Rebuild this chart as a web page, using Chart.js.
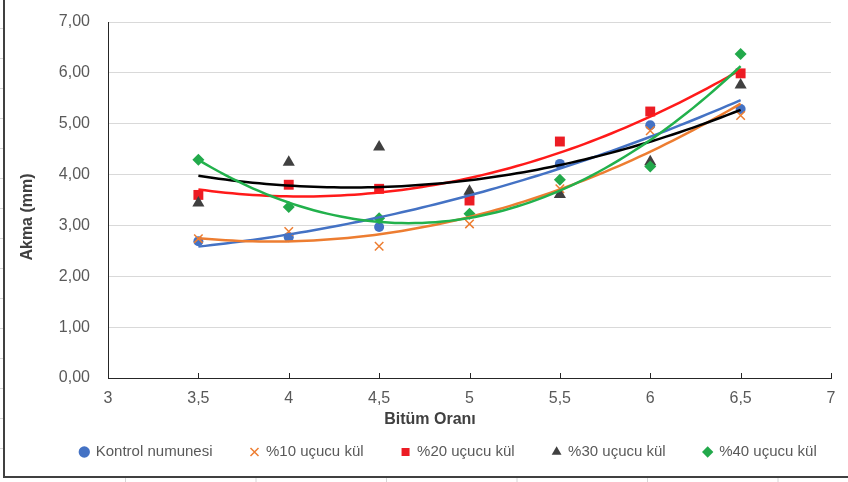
<!DOCTYPE html>
<html lang="tr">
<head>
<meta charset="UTF-8">
<title>Akma - Bitüm Oranı</title>
<script src="https://cdn.jsdelivr.net/npm/chart.js"></script>
<style>
  html, body { margin: 0; padding: 0; background: #fff; }
  #wrap { position: relative; width: 848px; height: 482px; }
</style>
</head>
<body>
<div id="wrap"><canvas id="akmaChart"></canvas></div>
<script>
  // data
  const bitumOrani = [3.5, 4, 4.5, 5, 5.5, 6, 6.5];
  const kontrol = [2.69, 2.77, 2.97, 3.58, 4.21, 4.97, 5.29];
  const ucucu10 = [2.74, 2.88, 2.59, 3.03, 3.72, 4.86, 5.16];
  const ucucu20 = [3.60, 3.80, 3.72, 3.49, 4.65, 5.24, 5.99];
  const ucucu30 = [3.44, 4.24, 4.54, 3.67, 3.61, 4.25, 5.76];
  const ucucu40 = [4.29, 3.36, 3.14, 3.23, 3.90, 4.16, 6.37];
  const seriesNames = ['Kontrol numunesi', '%10 uçucu kül', '%20 uçucu kül', '%30 uçucu kül', '%40 uçucu kül'];
  const xTicks = [3, 3.5, 4, 4.5, 5, 5.5, 6, 6.5, 7];

  const FONT = '"Liberation Sans", Arial, sans-serif';
  const markerColors = ['#4472C4', '#ED7D31', '#EC1C24', '#404040', '#22A94B'];
  const trendColors = ['#4472C4', '#ED7D31', '#FF1A1A', '#000000', '#22B14C'];
  const pointStyles = ['circle', 'crossRot', 'rect', 'triangle', 'rectRot'];
  const pointSizes = [5, 6, 7, 7, 6];

  // 2nd order polynomial trendline (least squares), like the spreadsheet one
  function fitQuad(xs, ys) {
    let n = xs.length, s1 = 0, s2 = 0, s3 = 0, s4 = 0, t0 = 0, t1 = 0, t2 = 0;
    for (let i = 0; i < n; i++) {
      const x = xs[i], y = ys[i];
      s1 += x; s2 += x * x; s3 += x * x * x; s4 += x * x * x * x;
      t0 += y; t1 += x * y; t2 += x * x * y;
    }
    const det = (m) => m[0][0] * (m[1][1] * m[2][2] - m[1][2] * m[2][1])
                     - m[0][1] * (m[1][0] * m[2][2] - m[1][2] * m[2][0])
                     + m[0][2] * (m[1][0] * m[2][1] - m[1][1] * m[2][0]);
    const A = [[n, s1, s2], [s1, s2, s3], [s2, s3, s4]];
    const B = [t0, t1, t2];
    const D = det(A);
    return [0, 1, 2].map(k => det(A.map((row, r) => row.map((v, c) => c === k ? B[r] : v))) / D);
  }

  const trendPlugin = {
    id: 'trend',
    afterDatasetsDraw(chart) {
      const { ctx, chartArea, scales: { x, y } } = chart;
      ctx.save();
      ctx.beginPath();
      ctx.rect(chartArea.left, chartArea.top, chartArea.width, chartArea.height);
      ctx.clip();
      chart.data.datasets.forEach((ds, i) => {
        const c = fitQuad(bitumOrani, ds.data.map(p => p.y));
        const x0 = bitumOrani[0], x1 = bitumOrani[bitumOrani.length - 1];
        ctx.beginPath();
        for (let k = 0; k <= 80; k++) {
          const xv = x0 + (x1 - x0) * k / 80;
          const px = x.getPixelForValue(xv);
          const py = y.getPixelForValue(c[0] + c[1] * xv + c[2] * xv * xv);
          if (k === 0) ctx.moveTo(px, py); else ctx.lineTo(px, py);
        }
        ctx.strokeStyle = trendColors[i];
        ctx.lineWidth = 2.5;
        ctx.lineJoin = 'round';
        ctx.stroke();
      });
      ctx.restore();
    }
  };

  // axis titles, inner tick marks and the outer frame
  const decorPlugin = {
    id: 'decor',
    afterLayout(chart) {
      // the legend row sits a bit right of centre in the original
      chart.legend.left += 26;
      chart.legend.right += 26;
    },
    afterDraw(chart) {
      const { ctx, chartArea, scales: { x } } = chart;
      ctx.save();
      ctx.strokeStyle = '#262626';
      ctx.lineWidth = 1;
      ctx.beginPath();
      xTicks.slice(1).forEach(v => {
        const px = Math.round(x.getPixelForValue(v)) + 0.5;
        ctx.moveTo(px, chartArea.bottom);
        ctx.lineTo(px, chartArea.bottom - 5);
      });
      ctx.stroke();

      ctx.fillStyle = '#404040';
      ctx.font = 'bold 16px ' + FONT;
      ctx.textAlign = 'center';
      ctx.textBaseline = 'middle';
      ctx.fillText('Bitüm Oranı', 430, 420);
      ctx.translate(28, 217);
      ctx.rotate(-Math.PI / 2);
      ctx.fillText('Akma (mm)', 0, 0);
      ctx.restore();

      // sheet cell lines peeking outside the chart frame
      ctx.save();
      ctx.strokeStyle = '#d6d6d6';
      ctx.lineWidth = 1;
      ctx.beginPath();
      for (let yy = 28.5; yy < 476; yy += 30) { ctx.moveTo(0, yy); ctx.lineTo(3, yy); }
      for (let xx = 125.5; xx < 848; xx += 130.5) { ctx.moveTo(xx, 478); ctx.lineTo(xx, 482); }
      ctx.stroke();

      ctx.strokeStyle = '#404040';
      ctx.lineWidth = 2;
      ctx.beginPath();
      ctx.moveTo(4, 0);
      ctx.lineTo(4, 477);
      ctx.lineTo(848, 477);
      ctx.stroke();
      ctx.restore();
    }
  };

  const seriesValues = [kontrol, ucucu10, ucucu20, ucucu30, ucucu40];

  new Chart(document.getElementById('akmaChart'), {
    type: 'scatter',
    data: {
      datasets: seriesValues.map((vals, i) => ({
        label: seriesNames[i],
        data: bitumOrani.map((b, j) => ({ x: b, y: vals[j] })),
        pointStyle: pointStyles[i],
        pointRadius: pointSizes[i],
        backgroundColor: markerColors[i],
        borderColor: markerColors[i],
        borderWidth: i === 1 ? 1.5 : 0,
        order: 5 - i
      }))
    },
    options: {
      responsive: true,
      maintainAspectRatio: false,
      animation: false,
      layout: { padding: { left: 14, right: 17, top: 22, bottom: 12.5 } },
      plugins: {
        tooltip: { enabled: false },
        legend: {
          position: 'bottom',
          labels: {
            usePointStyle: true,
            boxWidth: 8,
            boxHeight: 8,
            padding: 38,
            color: '#595959',
            font: { family: FONT, size: 15 },
            sort: (a, b) => a.datasetIndex - b.datasetIndex
          }
        }
      },
      scales: {
        x: {
          type: 'linear',
          min: 3,
          max: 7,
          afterFit: s => { s.height = 28.5; },
          afterBuildTicks: s => { s.ticks = xTicks.map(v => ({ value: v })); },
          ticks: {
            padding: 11,
            color: '#595959',
            font: { family: FONT, size: 16 },
            callback: v => String(v).replace('.', ',')
          },
          grid: { display: true, drawOnChartArea: false, drawTicks: false },
          border: { color: '#262626', width: 1 }
        },
        y: {
          min: 0,
          max: 7,
          afterFit: s => { s.width = 94; s.paddingTop = 10; s.paddingBottom = 10; },
          ticks: {
            stepSize: 1,
            padding: 18,
            color: '#595959',
            font: { family: FONT, size: 16 },
            callback: v => v.toFixed(2).replace('.', ',')
          },
          grid: { color: '#d9d9d9', lineWidth: 1, drawTicks: false },
          border: { color: '#262626', width: 1 }
        }
      }
    },
    plugins: [trendPlugin, decorPlugin]
  });
</script>
</body>
</html>
